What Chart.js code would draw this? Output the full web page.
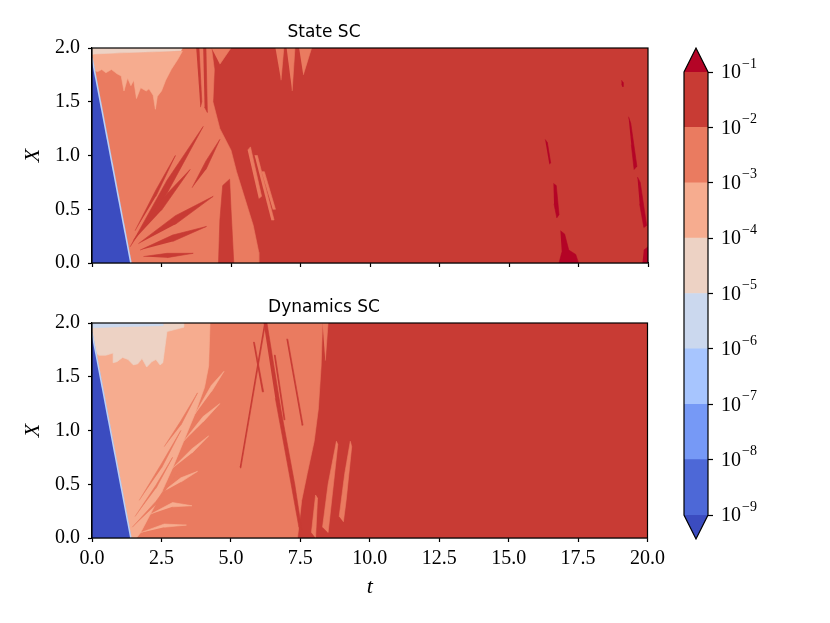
<!DOCTYPE html>
<html>
<head>
<meta charset="utf-8">
<script src="https://cdn.jsdelivr.net/npm/chart.js@4.4.1/dist/chart.umd.min.js"></script>
<style>
  body { margin: 0; background: #fff; width: 830px; height: 623px; position: relative; overflow: hidden; }
  canvas { position: absolute; }
</style>
</head>
<body>
<canvas id="stateChart" width="670" height="290" style="left:0;top:0"></canvas>
<canvas id="dynChart" width="670" height="333" style="left:0;top:290px"></canvas>
<canvas id="cbarChart" width="170" height="623" style="left:660px;top:0"></canvas>
<script>
// ticks
const tTicks = [0, 2.5, 5, 7.5, 10, 12.5, 15, 17.5, 20];
const xTicks = [0, 0.5, 1, 1.5, 2];
const cbarExp = [-9, -8, -7, -6, -5, -4, -3, -2, -1];

// 0 = under 1e-9, 1..8 = decades 1e-9..1e-1, 9 = over 1e-1 (coolwarm)
const levelColors = ['#3b4cc0', '#4d68d7', '#7699f6', '#a7c5fe', '#cbd8ee',
                     '#edd2c4', '#f6ac8f', '#ea7b60', '#c83b34', '#b40426'];

// ---- State SC regions, [t, X] ----
const stateBg = [[0, 0], [20, 0], [20, 2], [0, 2]];
const stateOrange = [[0, 2], [4.3, 2], [4.4, 1.8], [4.35, 1.5], [4.6, 1.25], [5.0, 1.05],
  [5.2, 0.85], [5.5, 0.6], [5.8, 0.35], [6.0, 0.1], [6.0, 0], [0, 0]];
const stateOrangeExtra = [
  [[5.6, 1.05], [5.7, 1.08], [6.1, 0.62], [6.0, 0.6]],
  [[5.85, 1.0], [5.95, 1.0], [6.55, 0.4], [6.45, 0.4]],
  [[6.1, 0.85], [6.2, 0.85], [6.6, 0.5], [6.5, 0.5]],
  [[6.6, 2], [6.9, 2], [6.8, 1.7]],
  [[7.0, 2], [7.3, 2], [7.2, 1.6]],
  [[7.45, 2], [7.9, 2], [7.6, 1.75]],
  [[4.3, 2], [5.0, 2], [4.6, 1.85]],
];
const stateRedStreaks = [
  [[1.37, 0.15], [2.7, 0.77], [4.0, 1.27], [2.7, 0.65]],
  [[1.49, 0.21], [2.5, 0.59], [3.53, 0.87], [2.5, 0.49]],
  [[1.55, 0.3], [2.3, 0.68], [3.0, 1.0], [2.3, 0.62]],
  [[1.67, 0.18], [3.0, 0.44], [4.36, 0.62], [3.0, 0.36]],
  [[1.73, 0.12], [2.9, 0.26], [4.12, 0.34], [2.9, 0.2]],
  [[1.85, 0.06], [2.7, 0.09], [3.64, 0.09], [2.7, 0.05]],
  [[3.6, 0.7], [4.1, 0.95], [4.6, 1.15], [4.1, 0.87]],
  [[4.55, 0], [4.6, 0.4], [4.7, 0.72], [4.95, 0.78], [5.0, 0.5], [5.1, 0]],
  [[3.75, 2], [3.85, 2], [3.95, 1.5], [3.9, 1.45]],
  [[4.0, 2], [4.1, 2], [4.15, 1.4], [4.05, 1.45]],
];
const stateSalmon = [[0, 1.95], [3.25, 1.97], [3.1, 1.9], [2.85, 1.8], [2.65, 1.7], [2.5, 1.6],
  [2.35, 1.55], [2.28, 1.43], [2.2, 1.56], [2.05, 1.62], [1.95, 1.6], [1.75, 1.63], [1.6, 1.53],
  [1.5, 1.7], [1.4, 1.65], [1.28, 1.72], [1.15, 1.6], [1.05, 1.74], [0.9, 1.76], [0.7, 1.8],
  [0.5, 1.77], [0.35, 1.8], [0.2, 1.78], [0, 1.8]];
const statePeach = [[0, 2], [3.25, 2], [3.2, 1.975], [2.2, 1.965], [1.0, 1.955], [0.1, 1.945], [0, 1.94]];
const stateOver = [
  [[16.3, 1.15], [16.38, 1.12], [16.5, 0.93], [16.45, 0.92]],
  [[16.6, 0.74], [16.7, 0.72], [16.8, 0.45], [16.72, 0.42], [16.62, 0.55]],
  [[16.85, 0.3], [17.0, 0.27], [17.15, 0.12], [17.4, 0.08], [17.5, 0], [16.8, 0], [16.9, 0.1]],
  [[19.3, 1.36], [19.38, 1.3], [19.6, 0.9], [19.5, 0.87], [19.4, 1.1]],
  [[19.62, 0.8], [19.72, 0.75], [19.95, 0.35], [19.85, 0.33], [19.7, 0.55]],
  [[19.85, 0.12], [20, 0.15], [20, 0], [19.8, 0]],
  [[19.05, 1.7], [19.1, 1.68], [19.1, 1.64], [19.05, 1.66]],
];

// ---- Dynamics SC regions ----
const dynBg = [[0, 0], [20, 0], [20, 2], [0, 2]];
const dynOrange = [[0, 2], [8.3, 2], [8.25, 1.6], [8.15, 1.2], [8.0, 0.9], [7.75, 0.6],
  [7.55, 0.35], [7.4, 0], [0, 0]];
const dynOrangeFingers = [
  [[8.3, 0.1], [8.5, 0.5], [8.8, 0.9], [8.85, 0.87], [8.65, 0.4], [8.5, 0.05]],
  [[8.9, 0.2], [9.1, 0.6], [9.3, 0.9], [9.35, 0.85], [9.15, 0.35], [9.05, 0.15]],
  [[8.3, 2], [8.5, 2], [8.4, 1.65]],
  [[7.9, 0.05], [8.05, 0.4], [8.12, 0.37], [8.05, 0]],
];
const dynSalmon = [[0, 2], [4.25, 2], [4.2, 1.6], [4.05, 1.4], [3.7, 1.15], [3.3, 0.9],
  [2.9, 0.65], [2.5, 0.42], [2.1, 0.22], [1.75, 0.05], [1.6, 0], [0, 0]];
const dynSalmonStreaks = [
  [[3.7, 1.15], [4.3, 1.42], [4.75, 1.55], [4.3, 1.36]],
  [[3.3, 0.9], [4.0, 1.13], [4.6, 1.25], [4.0, 1.08]],
  [[2.9, 0.65], [3.6, 0.83], [4.2, 0.95], [3.6, 0.79]],
  [[2.5, 0.42], [3.2, 0.56], [3.8, 0.62], [3.2, 0.52]],
  [[2.1, 0.22], [2.9, 0.33], [3.6, 0.3], [2.9, 0.29]],
  [[1.75, 0.05], [2.6, 0.13], [3.4, 0.12], [2.6, 0.1]],
];
const dynOrangeStreaks = [
  [[1.45, 0.1], [2.3, 0.34], [3.1, 0.62], [2.3, 0.31]],
  [[1.55, 0.2], [2.3, 0.49], [2.9, 0.75], [2.3, 0.46]],
  [[1.7, 0.35], [2.5, 0.69], [3.2, 1.0], [2.5, 0.65]],
  [[2.6, 0.85], [3.2, 1.09], [3.8, 1.35], [3.2, 1.05]],
];
const dynPeach = [[0, 2], [3.3, 2], [3.3, 1.96], [2.7, 1.92], [2.55, 1.63], [2.45, 1.61],
  [2.3, 1.66], [2.15, 1.64], [1.97, 1.59], [1.8, 1.67], [1.65, 1.62], [1.49, 1.61], [1.3, 1.66],
  [1.1, 1.68], [0.9, 1.64], [0.76, 1.63], [0.76, 1.72], [0.5, 1.7], [0.25, 1.7], [0, 1.75]];
const dynPale = [[0, 2], [2.55, 2], [2.55, 1.975], [1.0, 1.965], [0, 1.955]];
const dynRedLines = [
  [[6.2, 2], [6.25, 2], [5.36, 0.65], [5.32, 0.66]],
  [[6.18, 2], [6.3, 2], [6.8, 1.2], [7.3, 0.5], [7.55, 0.08], [7.45, 0.1], [7.1, 0.6], [6.6, 1.3]],
  [[5.8, 1.82], [5.85, 1.82], [6.18, 1.36], [6.12, 1.36]],
  [[7.0, 1.85], [7.05, 1.85], [7.6, 1.05], [7.55, 1.05]],
  [[6.55, 1.7], [6.6, 1.7], [6.95, 1.1], [6.9, 1.1]],
];

// light cone (below 1e-9) and its edge
const coneRegion = [[0, 0], [0, 1.91], [1.4, 0]];
const coneEdge = [[0, 1.91], [1.4, 0]];

const tickFont = { family: 'Liberation Serif', size: 20 };
const titleFont = { family: 'DejaVu Sans', size: 17, weight: 'normal' };

function layer(points, level) {
  return {
    data: points.map(([x, y]) => ({ x, y })),
    backgroundColor: levelColors[level], borderColor: levelColors[level],
    borderWidth: 0.6, fill: 'shape', pointRadius: 0, tension: 0,
  };
}

function buildDatasets(layers) {
  // layers listed bottom -> top
  const n = layers.length;
  const ds = layers.map((l, i) => ({ ...l, order: n - i + 1 }));
  ds.push({
    data: coneEdge.map(([x, y]) => ({ x, y })), borderColor: '#bcd0f4', borderWidth: 1.6,
    fill: false, pointRadius: 0, order: 0,
  });
  return ds;
}

const frame = {
  id: 'frame',
  afterDraw(chart) {
    const { ctx, chartArea: a } = chart;
    ctx.save();
    ctx.strokeStyle = '#000'; ctx.lineWidth = 1.2;
    ctx.strokeRect(a.left, a.top, a.right - a.left, a.bottom - a.top);
    ctx.restore();
  }
};

function axes(bottom) {
  return {
    x: {
      type: 'linear', min: 0, max: 20,
      afterBuildTicks: s => { s.ticks = tTicks.map(v => ({ value: v })); },
      afterFit: s => { s.height = bottom ? 65 : 27; },
      ticks: { callback: v => bottom ? v.toFixed(1) : '', font: tickFont, color: '#000',
               padding: 5, maxRotation: 0, autoSkip: false },
      grid: { display: true, drawOnChartArea: false, drawTicks: true, tickLength: 4,
              tickColor: '#000', tickWidth: 1.2 },
      border: { display: true, color: '#000', width: 1.2 },
      title: bottom
        ? { display: true, text: 't', color: '#000', padding: { top: 0, bottom: 3 },
            font: { family: 'Liberation Serif', size: 22, style: 'italic' } }
        : { display: false },
    },
    y: {
      type: 'linear', min: 0, max: 2,
      afterBuildTicks: s => { s.ticks = xTicks.map(v => ({ value: v })); },
      afterFit: s => { s.width = 92; },
      ticks: { callback: v => v.toFixed(1), font: tickFont, color: '#000', padding: 8 },
      grid: { display: true, drawOnChartArea: false, drawTicks: true, tickLength: 4,
              tickColor: '#000', tickWidth: 1.2 },
      border: { display: true, color: '#000', width: 1.2 },
      title: { display: true, text: 'X', color: '#000', padding: { top: 20, bottom: 0 },
               font: { family: 'Liberation Serif', size: 22, style: 'italic' } },
    },
  };
}

function makePanel(id, title, layers, bottom, padTop, padBottom) {
  return new Chart(document.getElementById(id), {
    type: 'line',
    data: { datasets: buildDatasets(layers) },
    options: {
      responsive: false, animation: false, devicePixelRatio: 1,
      layout: { padding: { left: 0, right: 22, top: padTop, bottom: padBottom } },
      plugins: {
        legend: { display: false }, tooltip: { enabled: false },
        title: { display: true, text: title, color: '#000', font: titleFont,
                 padding: { top: 0, bottom: 5 } },
      },
      scales: axes(bottom),
    },
    plugins: [frame],
  });
}

makePanel('stateChart', 'State SC', [
  layer(stateBg, 8),
  layer(stateOrange, 7),
  ...stateOrangeExtra.map(p => layer(p, 7)),
  ...stateRedStreaks.map(p => layer(p, 8)),
  layer(stateSalmon, 6),
  layer(statePeach, 5),
  ...stateOver.map(p => layer(p, 9)),
  layer(coneRegion, 0),
], false, 22.6, 0);

makePanel('dynChart', 'Dynamics SC', [
  layer(dynBg, 8),
  layer(dynOrange, 7),
  ...dynOrangeFingers.map(p => layer(p, 7)),
  layer(dynSalmon, 6),
  ...dynSalmonStreaks.map(p => layer(p, 6)),
  ...dynOrangeStreaks.map(p => layer(p, 7)),
  layer(dynPeach, 5),
  layer(dynPale, 4),
  ...dynRedLines.map(p => layer(p, 8)),
  layer(coneRegion, 0),
], true, 7.6, 20);

// ---- colorbar ----
const cbarExtras = {
  id: 'cbarExtras',
  afterDraw(chart) {
    const { ctx, chartArea: a } = chart;
    const mid = (a.left + a.right) / 2, h = 24;
    ctx.save();
    ctx.fillStyle = levelColors[9];
    ctx.beginPath(); ctx.moveTo(a.left, a.top); ctx.lineTo(mid, a.top - h); ctx.lineTo(a.right, a.top);
    ctx.closePath(); ctx.fill();
    ctx.fillStyle = levelColors[0];
    ctx.beginPath(); ctx.moveTo(a.left, a.bottom); ctx.lineTo(mid, a.bottom + h); ctx.lineTo(a.right, a.bottom);
    ctx.closePath(); ctx.fill();
    ctx.strokeStyle = '#000'; ctx.lineWidth = 1.2;
    ctx.beginPath();
    ctx.moveTo(a.left, a.top); ctx.lineTo(mid, a.top - h); ctx.lineTo(a.right, a.top);
    ctx.lineTo(a.right, a.bottom); ctx.lineTo(mid, a.bottom + h); ctx.lineTo(a.left, a.bottom);
    ctx.closePath(); ctx.stroke();
    const ys = chart.scales.y;
    ctx.fillStyle = '#000'; ctx.textAlign = 'left'; ctx.textBaseline = 'middle';
    cbarExp.forEach(e => {
      const py = ys.getPixelForValue(Math.pow(10, e));
      ctx.font = '20px "Liberation Serif"';
      ctx.fillText('10', a.right + 13, py + 1);
      const w = ctx.measureText('10').width;
      ctx.font = '14px "Liberation Serif"';
      ctx.fillText('\u2212' + (-e), a.right + 14 + w, py - 8);
    });
    ctx.restore();
  }
};

new Chart(document.getElementById('cbarChart'), {
  type: 'bar',
  data: {
    labels: [''],
    datasets: cbarExp.slice(0, -1).map((e, i) => ({
      data: [[Math.pow(10, e), Math.pow(10, e + 1)]],
      backgroundColor: levelColors[i + 1], borderWidth: 0,
      barPercentage: 1, categoryPercentage: 1,
    })),
  },
  options: {
    responsive: false, animation: false, devicePixelRatio: 1,
    layout: { padding: { left: 24, right: 42, top: 72, bottom: 108 } },
    plugins: { legend: { display: false }, tooltip: { enabled: false } },
    scales: {
      x: { display: false, stacked: true },
      y: {
        type: 'logarithmic', position: 'right', min: 1e-9, max: 1e-1,
        afterBuildTicks: s => { s.ticks = cbarExp.map(e => ({ value: Math.pow(10, e) })); },
        afterFit: s => { s.width = 80; },
        ticks: { callback: () => '' },
        grid: { display: true, drawOnChartArea: false, drawTicks: true, tickLength: 5,
                tickColor: '#000', tickWidth: 1.2 },
        border: { display: false },
      },
    },
  },
  plugins: [cbarExtras],
});
</script>
</body>
</html>
